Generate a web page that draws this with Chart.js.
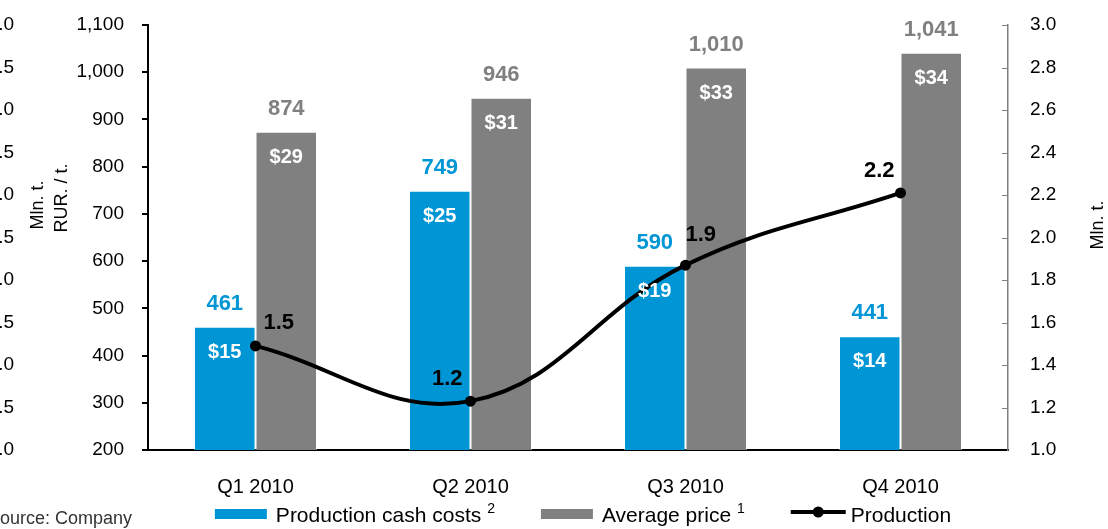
<!DOCTYPE html>
<html>
<head>
<meta charset="utf-8">
<title>Production, cash costs and price 2010</title>
<script src="https://cdn.jsdelivr.net/npm/chart.js@4.4.1/dist/chart.umd.min.js"></script>
<style>
  html, body { margin: 0; padding: 0; background: #fff; overflow: hidden; }
  #wrap { position: relative; width: 1108px; height: 529px; overflow: hidden; }
  /* canvas starts left of the page so the outer axis is cut off like in the slide */
  #chart { position: absolute; left: -32px; top: 0; }
</style>
</head>
<body>
<div id="wrap"><canvas id="chart" width="1140" height="529"></canvas></div>
<script>
var quarters = ['Q1 2010', 'Q2 2010', 'Q3 2010', 'Q4 2010'];
var cashCosts = [461, 749, 590, 441];        // RUR / t
var avgPrice = [874, 946, 1010, 1041];       // RUR / t
var cashCostsUsd = [15, 25, 19, 14];         // $ / t
var avgPriceUsd = [29, 31, 33, 34];          // $ / t
var production = [1.49, 1.23, 1.87, 2.21];   // Mln. t

var FONT = '"Liberation Sans", Arial, Helvetica, sans-serif';
var BLUE = '#0096d6';
var GREY = '#808080';

// where the production labels sit around each point: dx, dy, align
var prodLabelPos = [[8, -17, 'left'], [-8, -16, 'right'], [0, -24, 'left'], [-6, -16, 'right']];

// fixed axis width, and keep tick padding from pushing the plot area down
function fixWidth(w) {
    return function (scale) {
        scale.width = w;
        scale.paddingTop = 10;
        scale.paddingBottom = 10;
    };
}

var labelPlugin = {
    id: 'valueLabels',
    afterDatasetsDraw: function (chart) {
        var ctx = chart.ctx;
        ctx.save();
        ctx.textBaseline = 'alphabetic';
        ctx.textAlign = 'center';
        var bars = [[0, cashCosts, cashCostsUsd, BLUE], [1, avgPrice, avgPriceUsd, GREY]];
        bars.forEach(function (s) {
            chart.getDatasetMeta(s[0]).data.forEach(function (bar, i) {
                ctx.font = 'bold 22px ' + FONT;
                ctx.fillStyle = s[3];
                ctx.fillText(s[1][i].toLocaleString('en-US'), bar.x, bar.y - 17);
                ctx.font = 'bold 20px ' + FONT;
                ctx.fillStyle = '#fff';
                ctx.fillText('$' + s[2][i], bar.x, bar.y + 31);
            });
        });
        ctx.font = 'bold 22px ' + FONT;
        ctx.fillStyle = '#000';
        chart.getDatasetMeta(2).data.forEach(function (pt, i) {
            var p = prodLabelPos[i];
            ctx.textAlign = p[2];
            ctx.fillText(production[i].toFixed(1), pt.x + p[0], pt.y + p[1]);
        });
        ctx.restore();
    }
};

var decorPlugin = {
    id: 'decor',
    afterDraw: function (chart) {
        var ctx = chart.ctx;
        var area = chart.chartArea;
        ctx.save();

        // small inner tick marks on the right axis
        var y1 = chart.scales.y1;
        ctx.strokeStyle = GREY;
        ctx.lineWidth = 1;
        y1.ticks.forEach(function (t) {
            if (t.value === y1.min) return;
            var py = Math.round(y1.getPixelForValue(t.value)) + 0.5;
            ctx.beginPath();
            ctx.moveTo(area.right - 6, py);
            ctx.lineTo(area.right, py);
            ctx.stroke();
        });

        // axis titles, all reading bottom to top
        ctx.fillStyle = '#000';
        ctx.font = '18px ' + FONT;
        ctx.textAlign = 'center';
        ctx.textBaseline = 'middle';
        var titles = [['Mln. t.', chart.scales.y3.right + 22, 205],
                      ['RUR. / t.', chart.scales.y.left + 46, 198],
                      ['Mln. t.', y1.left + 90, 225]];
        titles.forEach(function (t) {
            ctx.save();
            ctx.translate(t[1], t[2]);
            ctx.rotate(-Math.PI / 2);
            ctx.fillText(t[0], 0, 0);
            ctx.restore();
        });

        // source note
        ctx.textAlign = 'left';
        ctx.textBaseline = 'alphabetic';
        ctx.font = '18px ' + FONT;
        ctx.fillStyle = '#333';
        ctx.fillText('Source: Company', 20, 524);

        drawLegend(chart);
        ctx.restore();
    }
};

function drawLegend(chart) {
    var ctx = chart.ctx;
    var ds = chart.data.datasets;
    var items = [
        { kind: 'box', color: ds[0].backgroundColor, text: ds[0].label, sup: '2' },
        { kind: 'box', color: ds[1].backgroundColor, text: ds[1].label, sup: '1' },
        { kind: 'line', color: ds[2].borderColor, text: ds[2].label, sup: '' }
    ];
    var base = 522;
    var gap = 46;
    var total = 0;
    items.forEach(function (it) {
        ctx.font = '21px ' + FONT;
        it.markW = it.kind === 'box' ? 52 : 55;
        it.pad = it.kind === 'box' ? 9 : 5;
        it.textW = ctx.measureText(it.text + (it.sup ? ' ' : '')).width;
        ctx.font = '14px ' + FONT;
        it.supW = it.sup ? ctx.measureText(it.sup).width : 0;
        it.w = it.markW + it.pad + it.textW + it.supW;
        total += it.w;
    });
    total += gap * (items.length - 1);
    var x = (chart.chartArea.left + chart.chartArea.right) / 2 - total / 2 + 5;
    ctx.textAlign = 'left';
    ctx.textBaseline = 'alphabetic';
    items.forEach(function (it) {
        if (it.kind === 'box') {
            ctx.fillStyle = it.color;
            ctx.fillRect(x, 509, it.markW, 10);
        } else {
            ctx.strokeStyle = it.color;
            ctx.lineWidth = 4;
            ctx.beginPath();
            ctx.moveTo(x, 512);
            ctx.lineTo(x + it.markW, 512);
            ctx.stroke();
            ctx.fillStyle = it.color;
            ctx.beginPath();
            ctx.arc(x + it.markW / 2, 512, 5.5, 0, Math.PI * 2);
            ctx.fill();
        }
        var tx = x + it.markW + it.pad;
        ctx.fillStyle = '#000';
        ctx.font = '21px ' + FONT;
        ctx.fillText(it.text, tx, base);
        if (it.sup) {
            ctx.font = '14px ' + FONT;
            ctx.fillText(it.sup, tx + it.textW, base - 9);
        }
        x += it.w + gap;
    });
}

var tickFont = { family: FONT, size: 19 };

new Chart(document.getElementById('chart'), {
    type: 'bar',
    data: {
        labels: quarters,
        datasets: [
            {
                label: 'Production cash costs',
                data: cashCosts,
                yAxisID: 'y',
                backgroundColor: BLUE,
                borderColor: 'rgba(255,255,255,0.45)',
                borderWidth: 1,
                categoryPercentage: 0.572,
                barPercentage: 1,
                order: 2
            },
            {
                label: 'Average price',
                data: avgPrice,
                yAxisID: 'y',
                backgroundColor: GREY,
                borderColor: 'rgba(255,255,255,0.45)',
                borderWidth: 1,
                categoryPercentage: 0.572,
                barPercentage: 1,
                order: 2
            },
            {
                type: 'line',
                label: 'Production',
                data: production,
                yAxisID: 'y1',
                borderColor: '#000',
                backgroundColor: '#000',
                borderWidth: 4,
                pointRadius: 5.5,
                pointBackgroundColor: '#000',
                pointBorderWidth: 0,
                tension: 0.4,
                fill: false,
                order: 0
            }
        ]
    },
    options: {
        responsive: false,
        animation: false,
        layout: { padding: { top: 25, left: 0, right: 0, bottom: 0 } },
        plugins: {
            legend: { display: false },
            tooltip: { enabled: false }
        },
        scales: {
            x: {
                grid: { display: false, drawTicks: false },
                border: { display: true, color: '#000', width: 2 },
                ticks: { font: { family: FONT, size: 20 }, color: '#000', padding: 25 },
                afterFit: function (scale) { scale.height = 79; }
            },
            y: {
                position: 'left',
                weight: 1,
                min: 200,
                max: 1100,
                grid: { display: true, drawOnChartArea: false, drawTicks: true, tickLength: 6, color: '#000', lineWidth: 2 },
                border: { display: true, color: '#000', width: 2 },
                ticks: {
                    stepSize: 100,
                    font: tickFont,
                    color: '#000',
                    padding: 18,
                    callback: function (v) { return v.toLocaleString('en-US'); }
                },
                afterFit: fixWidth(132)
            },
            y3: {
                position: 'left',
                weight: 2,
                min: 0,
                max: 5,
                grid: { display: false, drawTicks: false },
                border: { display: false },
                ticks: {
                    stepSize: 0.5,
                    font: tickFont,
                    color: '#000',
                    padding: 2,
                    callback: function (v) { return v.toFixed(1); }
                },
                afterFit: fixWidth(48)
            },
            y1: {
                position: 'right',
                min: 1,
                max: 3,
                grid: { display: false, drawTicks: false },
                border: { display: true, color: GREY, width: 1.5 },
                ticks: {
                    stepSize: 0.2,
                    font: tickFont,
                    color: '#000',
                    padding: 22,
                    callback: function (v) { return v.toFixed(1); }
                },
                afterFit: fixWidth(100)
            }
        }
    },
    plugins: [labelPlugin, decorPlugin]
});
</script>
</body>
</html>
